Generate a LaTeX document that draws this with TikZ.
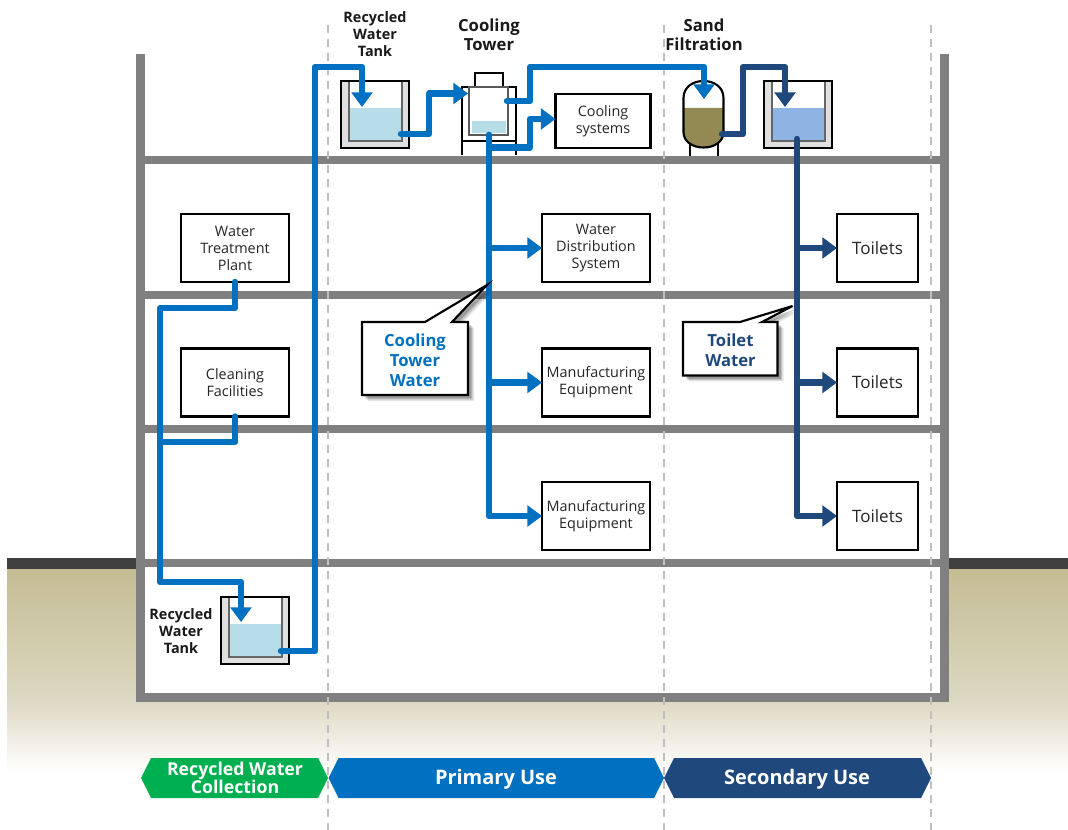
\documentclass[tikz,border=0pt]{standalone}
\usepackage{fontspec}
\setmainfont{Open Sans}
\usetikzlibrary{arrows.meta,shadows}
\definecolor{wallgray}{HTML}{808080}
\definecolor{pipeblue}{HTML}{0070C0}
\definecolor{pipedark}{HTML}{1F497D}
\definecolor{bangreen}{HTML}{00B050}
\definecolor{lightwater}{HTML}{B7DDE8}
\definecolor{bluewater}{HTML}{8EB4E3}
\definecolor{sandcol}{HTML}{938953}
\definecolor{tanktop}{HTML}{C4BC93}
\definecolor{tanklow}{HTML}{DDD8C2}
\definecolor{dashgray}{HTML}{BFBFBF}
\tikzset{
  x=0.75pt,y=-0.75pt,
  wall/.style={line width=6.6pt,draw=wallgray},
  floorline/.style={line width=6pt,draw=wallgray},
  divider/.style={line width=1.5pt,draw=dashgray,dash pattern=on 6pt off 4.5pt},
  pipe/.style={line width=4.8pt,line join=round,line cap=round},
  bluepipe/.style={pipe,draw=pipeblue},
  darkpipe/.style={pipe,draw=pipedark},
  tip/.style={-{Triangle[length=11pt,width=15.5pt]}},
  box/.style={draw=black,line width=1.6pt,fill=white,minimum width=81pt,minimum height=51pt,inner sep=0pt,outer sep=0pt,align=center,font=\fontsize{10.8}{12.8}\selectfont,text=black!85},
  toiletbox/.style={box,minimum width=60.75pt,font=\fontsize{12.8}{14}\selectfont},
  head/.style={align=center,inner sep=0pt,font=\fontsize{12.5}{14.3}\selectfont\bfseries,text=black!90},
  smallhead/.style={align=center,inner sep=0pt,font=\fontsize{10.8}{12.8}\selectfont\bfseries,text=black!90},
  callout/.style={draw=black,line width=1.6pt,line join=miter,fill=white,
    drop shadow={shadow xshift=4.5pt,shadow yshift=-4.5pt,fill=black,opacity=.1},
    drop shadow={shadow xshift=3.5pt,shadow yshift=-3.5pt,fill=black,opacity=.15},
    drop shadow={shadow xshift=2.5pt,shadow yshift=-2.5pt,fill=black,opacity=.2}},
  calltext/.style={align=center,inner sep=0pt,font=\fontsize{12.5}{15}\selectfont\bfseries},
  bantext/.style={align=center,inner sep=0pt,text=white,font=\fontsize{15}{17}\selectfont\bfseries},
  tankshell/.style={draw=black,line width=1.6pt,fill=black!12,minimum width=51pt,minimum height=50.5pt,inner sep=0pt,outer sep=0pt},
}
\newcommand{\WaterTank}[4]{%
  \node[tankshell] (#1) at (#2+34,#3+33.5) {};
  \fill[white] (#2+8,#3+1) rectangle (#2+61,#3+27);
  \fill[#4] (#2+8,#3+27) rectangle (#2+61,#3+60);
  \draw[black!60,line width=1.2pt] (#2+8,#3+1) -- (#2+8,#3+60) -- (#2+61,#3+60) -- (#2+61,#3+1);
}
\begin{document}
\begin{tikzpicture}
\useasboundingbox (0,0) rectangle (1068,830);
\fill[white] (0,0) rectangle (1068,830);
% ground
\shade[top color=tanktop,bottom color=tanklow] (7,569) rectangle (1068,700);
\shade[top color=tanklow,bottom color=white] (7,700) rectangle (1068,772);
\fill[white] (145,165) rectangle (940,693);
\fill[black!75] (7,558) rectangle (136,569);
\fill[black!75] (949,558) rectangle (1068,569);
% floors and walls
\foreach \yy in {160,295,429,563}{\draw[floorline] (140,\yy) -- (945,\yy);}
\draw[wall,line join=miter] (140.5,54) -- (140.5,697.5) -- (944.5,697.5) -- (944.5,54);
% dividers
\draw[divider] (328,25) -- (328,830);
\draw[divider] (664,25) -- (664,830);
\draw[divider] (931,25) -- (931,830);
% boxes
\node[box] (wtp) at (235,248) {\raisebox{-1pt}{Water}\\\raisebox{-1pt}{Treatment}\\\raisebox{-1pt}{Plant}};
\node[box] (clean) at (235,382.5) {\raisebox{-1pt}{Cleaning}\\\raisebox{-1pt}{Facilities}};
\node[box,minimum width=71.25pt,minimum height=40.5pt] (coolsys) at (603,121) {\raisebox{-1.5pt}{Cooling}\\\raisebox{-1.5pt}{systems}};
\node[box] (wds) at (596,248) {\raisebox{-1pt}{Water}\\\raisebox{-1pt}{Distribution}\\\raisebox{-1pt}{System}};
\node[box] (mfga) at (596,382.5) {\raisebox{-1pt}{Manufacturing}\\\raisebox{-1pt}{Equipment}};
\node[box] (mfgb) at (596,516) {\raisebox{-1pt}{Manufacturing}\\\raisebox{-1pt}{Equipment}};
\node[toiletbox] (toila) at (877.5,248) {Toilets};
\node[toiletbox] (toilb) at (877.5,382.5) {Toilets};
\node[toiletbox] (toilc) at (877.5,516) {Toilets};
% tanks
\WaterTank{tanka}{341}{81}{lightwater}
\WaterTank{tankb}{764}{81}{bluewater}
\WaterTank{tankc}{221}{597}{lightwater}
% cooling tower
\draw[black,line width=1.6pt,fill=white] (475,87) -- (475,73) -- (503,73) -- (503,87);
\draw[black,line width=1.6pt] (462,155) -- (462,87) -- (516,87) -- (516,155);
\draw[black,line width=1.6pt] (462,141) -- (516,141);
\node[draw=black!65,line width=1.2pt,fill=white,minimum width=29.5pt,minimum height=36pt,inner sep=0pt,outer sep=0pt] (tower) at (488.5,111) {};
\fill[lightwater] (472,121) rectangle (506,133);
% sand filter
\draw[black,line width=1.6pt] (690,144) -- (690,156) (718,144) -- (718,156);
\node[minimum width=30pt,minimum height=50pt,inner sep=0pt,outer sep=0pt] (filter) at (703.5,114) {};
\fill[white] (683.5,108) -- (683.5,98) .. controls (683.5,87) and (693,81) .. (703.5,81) .. controls (714,81) and (723.5,87) .. (723.5,98) -- (723.5,108) -- cycle;
\fill[sandcol] (683.5,108) -- (723.5,108) -- (723.5,132) .. controls (723.5,142) and (714,147.5) .. (703.5,147.5) .. controls (693,147.5) and (683.5,142) .. (683.5,132) -- cycle;
\draw[black,line width=1.6pt] (683.5,132) -- (683.5,98) .. controls (683.5,87) and (693,81) .. (703.5,81) .. controls (714,81) and (723.5,87) .. (723.5,98) -- (723.5,132) .. controls (723.5,142) and (714,147.5) .. (703.5,147.5) .. controls (693,147.5) and (683.5,142) .. (683.5,132) -- cycle;
% pipe coordinates
\coordinate (lowout) at (281,651);
\coordinate (tankain) at (362,107);
\coordinate (tankaout) at (401,134);
\coordinate (towerin) at (468,93.5);
\coordinate (towerout) at (507,101);
\coordinate (towerdown) at (489,135);
\coordinate (filterin) at (704,99);
\coordinate (filterout) at (722,134);
\coordinate (tankbin) at (785,107);
\coordinate (tankbdown) at (797,139);
\coordinate (tankcin) at (241,622);
% blue pipes
\draw[bluepipe,tip] (lowout) -- (315,651) -- (315,67) -- (362,67) -- (tankain);
\draw[bluepipe,tip] (tankaout) -- (429,134) -- (429,93.5) -- (towerin);
\draw[bluepipe,tip] (towerout) -- (530,101) -- (530,67) -- (704,67) -- (filterin);
\draw[bluepipe,tip] (towerdown) -- (489,147.5) -- (530,147.5) -- (530,119) -- (coolsys.west|-0,119);
\draw[bluepipe,tip] (towerdown) -- (489,516) -- (mfgb.west);
\draw[bluepipe,tip] (489,248) -- (wds.west);
\draw[bluepipe,tip] (489,382.5) -- (mfga.west);
\draw[bluepipe,tip] (wtp.south) -- (235,308) -- (160,308) -- (160,582) -- (241,582) -- (tankcin);
\draw[bluepipe] (clean.south) -- (235,442) -- (160,442);
% dark pipes
\draw[darkpipe,tip] (filterout) -- (743,134) -- (743,67) -- (785,67) -- (tankbin);
\draw[darkpipe,tip] (tankbdown) -- (797,516) -- (toilc.west);
\draw[darkpipe,tip] (797,248) -- (toila.west);
\draw[darkpipe,tip] (797,382.5) -- (toilb.west);
% callouts
\draw[callout] (362,322) -- (425,322) -- (487,285) -- (452,322) -- (468,322) -- (468,395) -- (362,395) -- cycle;
\node[calltext,text=pipeblue] (cttext) at (415,360) {Cooling\\Tower\\Water};
\draw[callout] (683,322) -- (740,322) -- (792.5,306) -- (762,322) -- (777.5,322) -- (777.5,375.5) -- (683,375.5) -- cycle;
\node[calltext,text=pipedark] (twtext) at (730.5,350) {Toilet\\Water};
% headings
\node[smallhead] (lbla) at (375,34) {Recycled\\Water\\Tank};
\node[head] (lblb) at (489,35) {Cooling\\Tower};
\node[head] (lblc) at (704,35) {Sand\\Filtration};
\node[smallhead] (lbld) at (181,631) {Recycled\\Water\\Tank};
% banners
\fill[bangreen] (141,778) -- (151,758) -- (318,758) -- (328,778) -- (318,798) -- (151,798) -- cycle;
\fill[pipeblue] (328.5,778) -- (338.5,758) -- (654,758) -- (664,778) -- (654,798) -- (338.5,798) -- cycle;
\fill[pipedark] (664,778) -- (674,758) -- (921,758) -- (931,778) -- (921,798) -- (674,798) -- cycle;
\node[bantext,font=\fontsize{13.3}{14}\selectfont\bfseries] (bana) at (235,778) {Recycled Water\\Collection};
\node[bantext] (banb) at (496,779) {Primary Use};
\node[bantext] (banc) at (797,779) {Secondary Use};
\end{tikzpicture}
\end{document}
